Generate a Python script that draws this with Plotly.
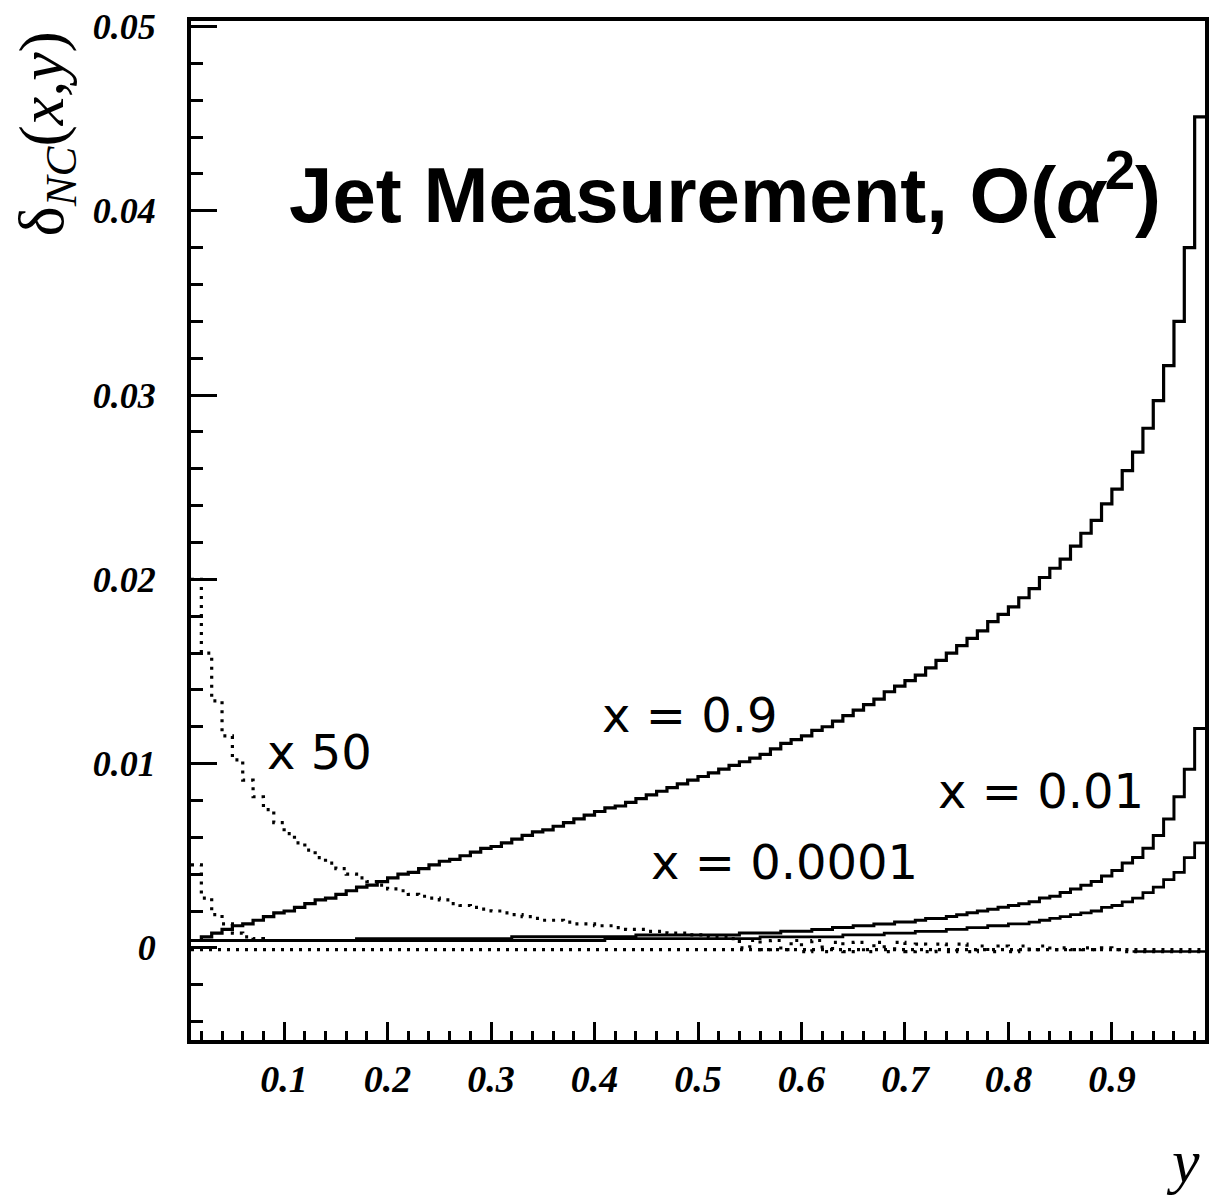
import plotly.graph_objects as go

# ---------------- data ----------------
# histogram: 98 bins of width 0.01 from y = 0.01 to y = 0.99
bin_lo = 0.01
bin_w = 0.01

delta_x09 = [
    0.0004, 0.0006, 0.0008, 0.0010, 0.0012, 0.0013, 0.0015, 0.0017, 0.0019, 0.0020,
    0.0022, 0.0024, 0.0026, 0.0027, 0.0029, 0.0031, 0.0033, 0.0034, 0.0036, 0.0038,
    0.0040, 0.0041, 0.0043, 0.0045, 0.0047, 0.0048, 0.0050, 0.0052, 0.0054, 0.0055,
    0.0057, 0.0059, 0.0061, 0.0063, 0.0064, 0.0066, 0.0068, 0.0070, 0.0072, 0.0074,
    0.0076, 0.0077, 0.0079, 0.0081, 0.0083, 0.0085, 0.0087, 0.0089, 0.0091, 0.0093,
    0.0095, 0.0097, 0.0099, 0.0101, 0.0103, 0.0105, 0.0108, 0.0111, 0.0113, 0.0115,
    0.0118, 0.0120, 0.0123, 0.0126, 0.0129, 0.0132, 0.0135, 0.0139, 0.0142, 0.0145,
    0.0148, 0.0152, 0.0156, 0.0160, 0.0164, 0.0168, 0.0172, 0.0177, 0.0181, 0.0185,
    0.0190, 0.0195, 0.0201, 0.0206, 0.0211, 0.0218, 0.0225, 0.0232, 0.0241, 0.0249,
    0.0259, 0.0269, 0.0282, 0.0297, 0.0316, 0.0340, 0.0380, 0.0451,
]

delta_x001 = [
    0.0004, 0.0004, 0.0004, 0.0004, 0.0004, 0.0004, 0.0004, 0.0004, 0.0004, 0.0004,
    0.0004, 0.0004, 0.0004, 0.0004, 0.0004, 0.0004, 0.0005, 0.0005, 0.0005, 0.0005,
    0.0005, 0.0005, 0.0005, 0.0005, 0.0005, 0.0005, 0.0005, 0.0005, 0.0005, 0.0005,
    0.0005, 0.0006, 0.0006, 0.0006, 0.0006, 0.0006, 0.0006, 0.0006, 0.0006, 0.0006,
    0.0006, 0.0006, 0.0006, 0.0007, 0.0007, 0.0007, 0.0007, 0.0007, 0.0007, 0.0007,
    0.0007, 0.0007, 0.0007, 0.0008, 0.0008, 0.0008, 0.0008, 0.0009, 0.0009, 0.0009,
    0.0010, 0.0010, 0.0011, 0.0011, 0.0012, 0.0012, 0.0013, 0.0013, 0.0014, 0.0014,
    0.0015, 0.0016, 0.0016, 0.0017, 0.0018, 0.0019, 0.0020, 0.0021, 0.0022, 0.0023,
    0.0024, 0.0025, 0.0027, 0.0028, 0.0030, 0.0032, 0.0034, 0.0036, 0.0039, 0.0042,
    0.0046, 0.0049, 0.0054, 0.0061, 0.0070, 0.0082, 0.0097, 0.0119,
]

delta_x00001 = [
    0.0004, 0.0004, 0.0004, 0.0004, 0.0004, 0.0004, 0.0004, 0.0004, 0.0004, 0.0004,
    0.0004, 0.0004, 0.0004, 0.0004, 0.0004, 0.0004, 0.0004, 0.0004, 0.0004, 0.0004,
    0.0004, 0.0004, 0.0004, 0.0004, 0.0004, 0.0004, 0.0004, 0.0004, 0.0004, 0.0004,
    0.0004, 0.0004, 0.0004, 0.0004, 0.0004, 0.0004, 0.0004, 0.0004, 0.0004, 0.0004,
    0.0005, 0.0005, 0.0005, 0.0005, 0.0005, 0.0005, 0.0005, 0.0005, 0.0005, 0.0005,
    0.0005, 0.0005, 0.0005, 0.0005, 0.0005, 0.0006, 0.0006, 0.0006, 0.0006, 0.0006,
    0.0006, 0.0006, 0.0006, 0.0007, 0.0007, 0.0007, 0.0007, 0.0008, 0.0008, 0.0008,
    0.0009, 0.0009, 0.0009, 0.0010, 0.0010, 0.0011, 0.0011, 0.0012, 0.0012, 0.0013,
    0.0013, 0.0014, 0.0015, 0.0016, 0.0017, 0.0018, 0.0019, 0.0020, 0.0022, 0.0023,
    0.0025, 0.0027, 0.0030, 0.0033, 0.0037, 0.0041, 0.0049, 0.0057,
]

# dotted curve scaled by 50
delta_x50 = [
    0.0200, 0.0160, 0.0134, 0.0115, 0.0102, 0.0091, 0.0082, 0.0075, 0.0068, 0.0062,
    0.0057, 0.0053, 0.0049, 0.0046, 0.0043, 0.0040, 0.0038, 0.0036, 0.0034, 0.0032,
    0.0031, 0.0029, 0.0028, 0.0027, 0.0026, 0.0024, 0.0023, 0.0022, 0.0021, 0.0020,
    0.0019, 0.0018, 0.0017, 0.0016, 0.0015, 0.0015, 0.0014, 0.0013, 0.0013, 0.0012,
    0.0012, 0.0011, 0.0010, 0.0010, 0.0009, 0.0009, 0.0008, 0.0008, 0.0007, 0.0007,
    0.0006, 0.0006, 0.0005, 0.0000, 0.0004, -0.0001, 0.0004, -0.0001, 0.0004, -0.0002,
    0.0004, -0.0002, 0.0003, -0.0002, 0.0003, -0.0002, 0.0003, -0.0002, 0.0003, -0.0002,
    0.0002, -0.0002, 0.0002, -0.0002, 0.0002, -0.0002, 0.0001, -0.0002, 0.0001, -0.0002,
    0.0001, -0.0001, 0.0001, -0.0001, 0.0000, -0.0001, 0.0000, -0.0001, 0.0000, -0.0001,
    -0.0001, -0.0001, -0.0001, -0.0001, -0.0001, -0.0001, -0.0001, -0.0001,
]

# small unscaled dotted curve near y -> 0
delta_small = [0.0045, 0.0027, 0.0018, 0.0013, 0.0008, 0.0006, 0.0005, 0.0004,
               0.0004, 0.0004, 0.0004, 0.0004]

# flat dotted line close to zero
delta_flat = [
    -0.0001, -0.0001, -0.0001, -0.0001, -0.0001, -0.0001, -0.0001, -0.0001, -0.0001, -0.0001,
    -0.0001, -0.0001, -0.0001, -0.0001, -0.0001, -0.0001, -0.0001, -0.0001, -0.0001, -0.0001,
    -0.0001, -0.0001, -0.0001, -0.0001, -0.0001, -0.0001, -0.0001, -0.0001, -0.0001, -0.0001,
    -0.0001, -0.0001, -0.0001, -0.0001, -0.0001, -0.0001, -0.0001, -0.0001, -0.0001, -0.0001,
    -0.0001, -0.0001, -0.0001, -0.0001, -0.0001, -0.0001, -0.0001, -0.0001, -0.0001, -0.0001,
    -0.0001, -0.0001, -0.0001, -0.0001, -0.0001, -0.0001, -0.0001, -0.0001, -0.0001, -0.0001,
    -0.0001, -0.0001, -0.0001, -0.0001, -0.0001, -0.0001, -0.0001, -0.0001, -0.0001, -0.0001,
    -0.0001, -0.0001, -0.0001, -0.0001, -0.0001, -0.0001, -0.0001, -0.0001, -0.0001, -0.0001,
    -0.0001, -0.0001, -0.0001, -0.0001, -0.0001, -0.0001, -0.0001, -0.0001, -0.0001, -0.0001,
    -0.0002, -0.0002, -0.0002, -0.0002, -0.0002, -0.0002, -0.0002, -0.0002,
]

# short solid piece near zero at large y
tail_lo = 0.92
delta_tail = [-0.0002, -0.0002, -0.0002, -0.0002, -0.0002, -0.0002, -0.0002]

x_ticks = [0.1, 0.2, 0.3, 0.4, 0.5, 0.6, 0.7, 0.8, 0.9]
x_ticklabels = ["0.1", "0.2", "0.3", "0.4", "0.5", "0.6", "0.7", "0.8", "0.9"]
y_ticks = [0.0, 0.01, 0.02, 0.03, 0.04, 0.05]
y_ticklabels = ["0", "0.01", "0.02", "0.03", "0.04", "0.05"]

labels = ["x = 0.9", "x = 0.01", "x = 0.0001", "x 50"]


# ---------------- helpers ----------------
def step_xy(lo, vals):
    xs = [round(lo + bin_w * i, 4) for i in range(len(vals) + 1)]
    ys = list(vals) + [vals[-1]]
    return xs, ys


fig = go.Figure()


def add_hist(lo, vals, width, dash):
    xs, ys = step_xy(lo, vals)
    fig.add_trace(go.Scatter(x=xs, y=ys, mode="lines", line_shape="hv",
                             line=dict(color="black", width=width, dash=dash),
                             showlegend=False, hoverinfo="skip"))


DOT = "3px,6px"
add_hist(bin_lo, delta_flat, 3.2, DOT)
add_hist(bin_lo, delta_small, 3.2, DOT)
add_hist(bin_lo, delta_x50, 3.2, DOT)
add_hist(tail_lo, delta_tail, 2.6, "solid")
add_hist(bin_lo, delta_x00001, 2.8, "solid")
add_hist(bin_lo, delta_x001, 3.0, "solid")
add_hist(bin_lo, delta_x09, 3.2, "solid")

# plot area in pixels
L, R, T, B = 191, 1205, 7, 1040
W, H = 1217, 1198


def px(xp):
    return (xp - L) / (R - L)


def py(yp):
    return (B - yp) / (B - T)


def add_text(text, xp, yp, size, family="DejaVu Sans", angle=0, weight="normal"):
    fig.add_annotation(text=text, x=px(xp), y=py(yp), xref="paper", yref="paper",
                       showarrow=False, xanchor="center", yanchor="middle",
                       textangle=angle,
                       font=dict(family=family, size=size, color="black", weight=weight))


add_text("Jet Measurement, O(<i>α</i><sup>2</sup>)", 725, 178, 78,
         family="Liberation Sans", weight="bold")
add_text(labels[0], 689, 711, 48)
add_text(labels[1], 1041, 788, 48)
add_text(labels[2], 784, 860, 48)
add_text(labels[3], 319, 748, 48)

add_text("δ<sub><i>NC</i></sub>(<i>x,y</i>)", 46, 122, 64,
         family="Liberation Serif", angle=-90)
add_text("<i>y</i>", 1183, 1163, 62, family="Liberation Serif")

axis_common = dict(showline=True, linecolor="black", linewidth=4, mirror=True,
                   showgrid=False, zeroline=False, ticks="inside",
                   tickcolor="black", tickwidth=3, ticklabeloverflow="allow")

tick_font = dict(family="Liberation Serif", size=36, style="italic",
                 weight="bold", color="black")

fig.update_xaxes(**axis_common, range=[0.01, 0.99],
                 tickmode="array", tickvals=x_ticks, ticktext=x_ticklabels,
                 ticklen=18, ticklabelstandoff=2,
                 tickfont=dict(tick_font, size=38),
                 minor=dict(ticks="inside", dtick=0.02, tick0=0.0, ticklen=9,
                            tickwidth=3, tickcolor="black"))
fig.update_yaxes(**axis_common, range=[-0.005, 0.0503],
                 tickmode="array", tickvals=y_ticks, ticktext=y_ticklabels,
                 ticklen=26, ticklabelstandoff=24, tickfont=tick_font,
                 minor=dict(ticks="inside", dtick=0.002, tick0=0.0, ticklen=12,
                            tickwidth=3, tickcolor="black"))

fig.update_layout(width=W, height=H,
                  margin=dict(l=L, r=W - R, t=T, b=H - B, pad=0),
                  plot_bgcolor="white", paper_bgcolor="white",
                  showlegend=False)

fig.write_html("out.html")
